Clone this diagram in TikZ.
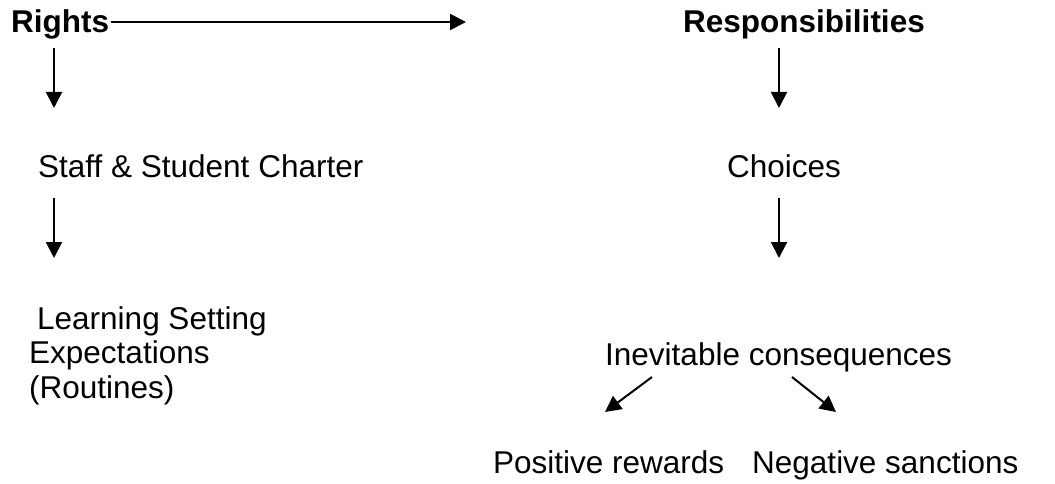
\documentclass[tikz,border=0pt]{standalone}
\usepackage{fontspec}
\setmainfont{Liberation Sans}
\usetikzlibrary{arrows.meta}
\begin{document}
\begin{tikzpicture}[x=1pt,y=-1pt,
        txt/.style={anchor=base west,inner sep=0pt,font=\fontsize{31.5}{34.5}\selectfont},
        head/.style={txt,font=\fontsize{31.5}{34.5}\selectfont\bfseries},
        arr/.style={line width=2pt,-{Triangle[width=16pt,length=16pt]}}]
            \useasboundingbox (0,0) rectangle (1055,484);
            % left column
            \node[head] (rights) at (11,33) {Rights};
            \node[txt] (charter) at (38,178) {Staff \& Student Charter};
            \node[txt,align=left] (setting) at (29,398)
                {\hspace*{8pt}Learning Setting\\Expectations\\(Routines)};
            % right column
            \node[head] (resp) at (683,33) {Responsibilities};
            \node[txt] (choices) at (727,178) {Choices};
            \node[txt] (conseq) at (605,365) {Inevitable consequences};
            \node[txt] (reward) at (493,473) {Positive rewards};
            \node[txt] (sanction) at (752,473) {Negative sanctions};
            % arrow ends
            \coordinate (top) at (466,22);
            \coordinate (r1) at (54,48);   \coordinate (r2) at (54,108);
            \coordinate (r3) at (54,198);  \coordinate (r4) at (54,258);
            \coordinate (s1) at (779,48);  \coordinate (s2) at (779,108);
            \coordinate (s3) at (779,198); \coordinate (s4) at (779,258);
            \coordinate (c1) at (652,377); \coordinate (c2) at (605,412);
            \coordinate (c3) at (792,377); \coordinate (c4) at (836,412);
            \draw[arr] ([xshift=2pt]rights.east |- top) -- (top);
            \draw[arr] (r1) -- (r2);
            \draw[arr] (r3) -- (r4);
            \draw[arr] (s1) -- (s2);
            \draw[arr] (s3) -- (s4);
            \draw[arr] (c1) -- (c2);
            \draw[arr] (c3) -- (c4);
        \end{tikzpicture}
\end{document}
